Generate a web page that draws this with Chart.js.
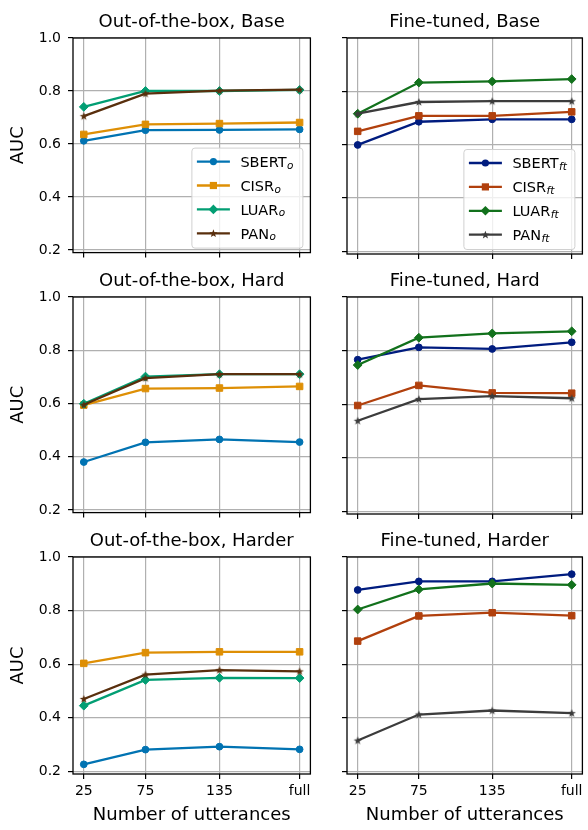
<!DOCTYPE html>
<html>
<head>
<meta charset="utf-8">
<script src="https://cdn.jsdelivr.net/npm/chart.js@4.4.1/dist/chart.umd.min.js"></script>
<style>
  body { margin: 0; background: #fff; }
  #wrap { position: relative; width: 588px; height: 830px; }
  #wrap canvas { position: absolute; }
</style>
</head>
<body>
<div id="wrap">
  <canvas id="c0"></canvas>
  <canvas id="c1"></canvas>
  <canvas id="c2"></canvas>
  <canvas id="c3"></canvas>
  <canvas id="c4"></canvas>
  <canvas id="c5"></canvas>
</div>
<script>
// ---------------------------------------------------------------
// data
// ---------------------------------------------------------------
var xPositions = [25, 75, 135, 200];          // "full" sits at 200 on a linear axis
var xTickLabels = ['25', '75', '135', 'full'];
var yTicks = [0.2, 0.4, 0.6, 0.8, 1.0];
var modelNames = ['SBERT', 'CISR', 'LUAR', 'PAN'];

// out-of-the-box
var outBaseSBERT = [0.612, 0.652, 0.653, 0.655];
var outBaseCISR  = [0.636, 0.674, 0.677, 0.681];
var outBaseLUAR  = [0.740, 0.800, 0.800, 0.804];
var outBasePAN   = [0.705, 0.790, 0.801, 0.805];

var outHardSBERT = [0.380, 0.454, 0.465, 0.455];
var outHardCISR  = [0.594, 0.656, 0.658, 0.664];
var outHardLUAR  = [0.599, 0.701, 0.710, 0.710];
var outHardPAN   = [0.595, 0.695, 0.710, 0.710];

var outHarderSBERT = [0.226, 0.281, 0.292, 0.282];
var outHarderCISR  = [0.603, 0.643, 0.646, 0.646];
var outHarderLUAR  = [0.445, 0.541, 0.549, 0.548];
var outHarderPAN   = [0.470, 0.561, 0.578, 0.573];

// fine-tuned
var ftBaseSBERT = [0.599, 0.686, 0.695, 0.695];
var ftBaseCISR  = [0.650, 0.708, 0.708, 0.723];
var ftBaseLUAR  = [0.716, 0.833, 0.837, 0.846];
var ftBasePAN   = [0.716, 0.760, 0.763, 0.763];

var ftHardSBERT = [0.766, 0.812, 0.806, 0.831];
var ftHardCISR  = [0.595, 0.670, 0.642, 0.641];
var ftHardLUAR  = [0.746, 0.848, 0.864, 0.872];
var ftHardPAN   = [0.538, 0.619, 0.630, 0.622];

var ftHarderSBERT = [0.877, 0.909, 0.909, 0.936];
var ftHarderCISR  = [0.686, 0.780, 0.792, 0.781];
var ftHarderLUAR  = [0.804, 0.879, 0.901, 0.896];
var ftHarderPAN   = [0.315, 0.412, 0.427, 0.417];

var outColors = ['#0173b2', '#de8f05', '#029e73', '#592f0d'];
var ftColors  = ['#001c7f', '#b1400d', '#12711c', '#3c3c3c'];

// ---------------------------------------------------------------
// markers
// ---------------------------------------------------------------
function starPath(g, cx, cy, ro, ri) {
  g.beginPath();
  for (var i = 0; i < 10; i++) {
    var r = (i % 2 === 0) ? ro : ri;
    var a = -Math.PI / 2 + i * Math.PI / 5;
    g.lineTo(cx + r * Math.cos(a), cy + r * Math.sin(a));
  }
  g.closePath();
}

function starImage(color) {
  var c = document.createElement('canvas');
  c.width = 10; c.height = 10;
  var g = c.getContext('2d');
  g.fillStyle = color;
  starPath(g, 5, 5.3, 4.3, 1.8);
  g.fill();
  return c;
}

var markerStyles = ['circle', 'rect', 'rectRot', 'star'];
var markerRadius = [3.4, 4.6, 4.4, 4];

function drawMarker(g, kind, color, x, y) {
  g.save();
  g.fillStyle = color;
  g.beginPath();
  if (kind === 'circle') {
    g.arc(x, y, 3.6, 0, Math.PI * 2);
  } else if (kind === 'rect') {
    g.rect(x - 3.6, y - 3.6, 7.2, 7.2);
  } else if (kind === 'rectRot') {
    g.moveTo(x - 4.8, y); g.lineTo(x, y - 4.8); g.lineTo(x + 4.8, y); g.lineTo(x, y + 4.8);
    g.closePath();
  } else {
    starPath(g, x, y + 0.3, 4.3, 1.8);
  }
  g.fill();
  g.restore();
}

// ---------------------------------------------------------------
// plugin: title, frame (all four spines) and legend
// ---------------------------------------------------------------
var panelPlugin = {
  id: 'panelDecor',
  afterDraw: function(chart) {
    var g = chart.ctx;
    var ca = chart.chartArea;
    var o = chart.options.plugins.panelDecor;

    g.save();
    g.fillStyle = '#000';
    g.font = '18px "DejaVu Sans"';
    g.textAlign = 'center';
    g.textBaseline = 'alphabetic';
    g.fillText(o.title, (ca.left + ca.right) / 2, ca.top - 11.5);

    g.strokeStyle = '#000';
    g.lineWidth = 1.3;
    g.strokeRect(ca.left, ca.top, ca.right - ca.left, ca.bottom - ca.top);

    if (o.legend) {
      var bw = 111, bh = 100;
      var bx = ca.right - 7.5 - bw, by = ca.bottom - 4.5 - bh;
      g.beginPath();
      g.roundRect(bx, by, bw, bh, 3);
      g.fillStyle = 'rgba(255,255,255,0.8)';
      g.fill();
      g.strokeStyle = '#d0d0d0';
      g.lineWidth = 1;
      g.stroke();

      for (var i = 0; i < modelNames.length; i++) {
        var yy = by + 13.5 + i * 23.9;
        var col = o.colors[i];
        g.strokeStyle = col;
        g.lineWidth = 2.3;
        g.beginPath();
        g.moveTo(bx + 5, yy);
        g.lineTo(bx + 38, yy);
        g.stroke();
        drawMarker(g, markerStyles[i], col, bx + 21.5, yy);

        g.fillStyle = '#000';
        g.textAlign = 'left';
        g.font = '14.5px "DejaVu Sans"';
        var tx = bx + 48.5;
        g.fillText(modelNames[i], tx, yy + 5.3);
        var w = g.measureText(modelNames[i]).width;
        g.font = 'italic 10.5px "DejaVu Sans"';
        g.fillText(o.legend, tx + w + 0.5, yy + 7);
      }
    }
    g.restore();
  }
};

// ---------------------------------------------------------------
// one panel
// ---------------------------------------------------------------
function plotPanel(id, box, title, series, colors, legendSub, showY, showX) {
  var el = document.getElementById(id);
  el.width = box.w; el.height = box.h;
  el.style.left = box.x + 'px'; el.style.top = box.y + 'px';
  el.style.width = box.w + 'px'; el.style.height = box.h + 'px';

  var datasets = [];
  for (var i = 0; i < series.length; i++) {
    var pts = [];
    for (var j = 0; j < xPositions.length; j++) {
      pts.push({ x: xPositions[j], y: series[i][j] });
    }
    var style = markerStyles[i] === 'star' ? starImage(colors[i]) : markerStyles[i];
    datasets.push({
      label: modelNames[i],
      data: pts,
      borderColor: colors[i],
      backgroundColor: colors[i],
      borderWidth: 2.3,
      tension: 0,
      pointStyle: style,
      pointRadius: markerRadius[i],
      pointBorderWidth: 1,
      pointBorderColor: colors[i],
      pointBackgroundColor: colors[i],
      order: series.length - i
    });
  }

  var tickFont = { family: 'DejaVu Sans', size: 14 };
  var labelFont = { family: 'DejaVu Sans', size: 18 };

  new Chart(el, {
    type: 'line',
    data: { datasets: datasets },
    options: {
      responsive: false,
      animation: false,
      events: [],
      layout: { padding: { top: box.padTop, right: box.padRight, left: 0, bottom: 0 } },
      plugins: {
        legend: { display: false },
        tooltip: { enabled: false },
        panelDecor: { title: title, legend: legendSub, colors: colors }
      },
      scales: {
        x: {
          type: 'linear',
          min: 16.25,
          max: 208.75,
          afterBuildTicks: function(s) { s.ticks = xPositions.map(function(v) { return { value: v }; }); },
          afterFit: function(s) { s.height = box.xH; },
          border: { display: false },
          grid: { color: '#b0b0b0', lineWidth: 1.2, tickColor: '#000', tickLength: 5, tickWidth: 1.2 },
          ticks: {
            display: showX, padding: 4, color: '#000', font: tickFont,
            maxRotation: 0, autoSkip: false,
            callback: function(v) { return xTickLabels[xPositions.indexOf(v)]; }
          },
          title: {
            display: showX, text: 'Number of utterances', color: '#000',
            font: labelFont, padding: { top: 0, bottom: 4 }
          }
        },
        y: {
          min: 0.19,
          max: 1.0,
          afterBuildTicks: function(s) { s.ticks = yTicks.map(function(v) { return { value: v }; }); },
          afterFit: function(s) { s.width = box.yW; },
          border: { display: false },
          grid: { color: '#b0b0b0', lineWidth: 1.2, tickColor: '#000', tickLength: 5, tickWidth: 1.2 },
          ticks: {
            display: showY, padding: 7, color: '#000', font: tickFont,
            callback: function(v) { return v.toFixed(1); }
          },
          title: {
            display: showY, text: 'AUC', color: '#000',
            font: labelFont, padding: { top: 7.5, bottom: 0 }
          }
        }
      }
    },
    plugins: [panelPlugin]
  });
}

// layout boxes (canvas position + reserved axis space)
var leftCol  = { x: 0,   w: 316, yW: 73, padRight: 4 };
var rightCol = { x: 316, w: 272, yW: 31, padRight: 2 };
var rows = [
  { y: 0,   h: 268, padTop: 38, xH: 14 },
  { y: 268, h: 260, padTop: 29, xH: 14 },
  { y: 528, h: 302, padTop: 29, xH: 56 }
];
function box(col, row) {
  return { x: col.x, w: col.w, yW: col.yW, padRight: col.padRight,
           y: row.y, h: row.h, padTop: row.padTop, xH: row.xH };
}

plotPanel('c0', box(leftCol, rows[0]), 'Out-of-the-box, Base',
  [outBaseSBERT, outBaseCISR, outBaseLUAR, outBasePAN], outColors, 'o', true, false);
plotPanel('c1', box(rightCol, rows[0]), 'Fine-tuned, Base',
  [ftBaseSBERT, ftBaseCISR, ftBaseLUAR, ftBasePAN], ftColors, 'ft', false, false);
plotPanel('c2', box(leftCol, rows[1]), 'Out-of-the-box, Hard',
  [outHardSBERT, outHardCISR, outHardLUAR, outHardPAN], outColors, null, true, false);
plotPanel('c3', box(rightCol, rows[1]), 'Fine-tuned, Hard',
  [ftHardSBERT, ftHardCISR, ftHardLUAR, ftHardPAN], ftColors, null, false, false);
plotPanel('c4', box(leftCol, rows[2]), 'Out-of-the-box, Harder',
  [outHarderSBERT, outHarderCISR, outHarderLUAR, outHarderPAN], outColors, null, true, true);
plotPanel('c5', box(rightCol, rows[2]), 'Fine-tuned, Harder',
  [ftHarderSBERT, ftHarderCISR, ftHarderLUAR, ftHarderPAN], ftColors, null, false, true);
</script>
</body>
</html>
